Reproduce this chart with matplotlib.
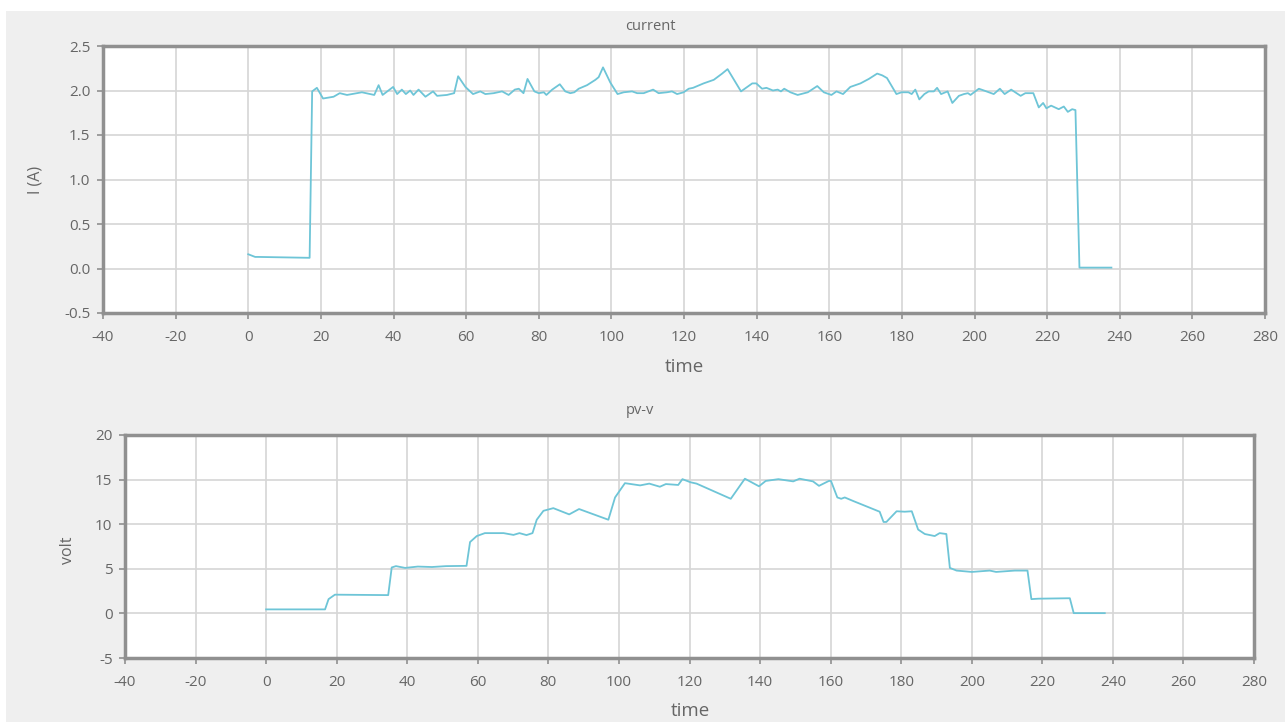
import matplotlib
matplotlib.use("Agg")
import matplotlib.pyplot as plt
from matplotlib.patches import Rectangle

plt.rcParams['font.family'] = ['Open Sans', 'DejaVu Sans']

# current (A) vs time (s)
cur_t = [0, 1.9, 2.8, 16.9, 17.6, 18.9, 20.6, 23.5, 25.2, 27.2, 31.3, 34.7, 35.9, 37.0,
         39.9, 41.0, 42.3, 43.4, 44.6, 45.5, 46.9, 48.8, 50.9, 52.0, 54.7, 56.7, 57.8,
         59.8, 61.9, 63.9, 65.3, 67.6, 69.9, 71.7, 73.4, 74.5, 75.8, 76.9, 78.8, 80.0,
         81.4, 82.1, 83.7, 85.8, 87.3, 88.7, 89.8, 91.0, 93.3, 95.6, 96.5, 97.7, 99.7,
         101.7, 103.4, 105.7, 107.1, 108.9, 111.5, 113.0, 115.3, 116.7, 118.1, 119.9,
         121.3, 122.5, 125.4, 128.2, 130.5, 132.0, 135.7, 138.8, 139.9, 141.5, 142.7,
         144.5, 145.8, 146.7, 147.6, 149.3, 151.3, 154.1, 156.7, 158.5, 160.6, 162.0,
         163.8, 165.8, 168.6, 170.9, 173.2, 174.6, 175.9, 178.5, 179.9, 181.8, 182.7,
         183.7, 184.8, 186.2, 187.4, 188.8, 189.7, 190.8, 192.0, 192.6, 193.9, 195.7,
         197.1, 198.2, 198.9, 201.2, 202.6, 205.3, 207.0, 208.3, 210.1, 212.7, 214.0,
         215.4, 216.2, 217.7, 218.9, 219.8, 221.1, 223.2, 224.6, 225.7, 226.9, 227.8,
         228.9, 237.7]
cur_i = [0.16, 0.13, 0.13, 0.12, 1.99, 2.03, 1.91, 1.93, 1.97, 1.95, 1.98, 1.95, 2.06, 1.95,
         2.04, 1.96, 2.01, 1.96, 2.00, 1.95, 2.01, 1.93, 1.99, 1.94, 1.95, 1.97, 2.16,
         2.04, 1.96, 1.99, 1.96, 1.97, 1.99, 1.95, 2.01, 2.02, 1.97, 2.13, 1.99, 1.97,
         1.98, 1.95, 2.01, 2.07, 1.99, 1.97, 1.98, 2.02, 2.06, 2.12, 2.15, 2.26, 2.09,
         1.96, 1.98, 1.99, 1.97, 1.97, 2.01, 1.97, 1.98, 1.99, 1.96, 1.98,
         2.02, 2.03, 2.08, 2.12, 2.19, 2.24, 1.99, 2.08, 2.08, 2.02, 2.03,
         2.00, 2.01, 1.99, 2.02, 1.98, 1.95, 1.98, 2.05, 1.98, 1.95, 1.99,
         1.96, 2.04, 2.08, 2.13, 2.19, 2.17, 2.14, 1.96, 1.98, 1.98, 1.96,
         2.01, 1.90, 1.96, 1.99, 1.99, 2.03, 1.96, 1.98, 1.99, 1.86, 1.94,
         1.96, 1.97, 1.95, 2.02, 2.00, 1.96, 2.02, 1.96, 2.01, 1.94, 1.97,
         1.97, 1.97, 1.81, 1.86, 1.80, 1.83, 1.79, 1.82, 1.76, 1.79, 1.78,
         0.01, 0.01]

# pv voltage (V) vs time (s)
pv_t = [0, 16.7, 17.7, 19.5, 34.6, 35.6, 36.8, 39.4, 43.0, 47.0, 51.0, 56.8, 57.8, 59.7,
        62.0, 67.3, 70.1, 71.8, 73.8, 75.5, 76.7, 78.6, 81.4, 85.9, 88.7, 97.0, 98.9,
        101.7, 106.0, 108.6, 111.6, 113.3, 116.8, 118.0, 120.3, 122.0, 131.7, 135.7,
        139.7, 141.6, 145.2, 149.4, 151.2, 155.0, 156.7, 159.5, 160.1, 161.9, 163.0,
        164.0, 166.4, 173.9, 175.0, 175.8, 178.7, 181.0, 183.0, 184.8, 186.7, 189.5,
        190.9, 192.8, 193.8, 195.7, 200.0, 205.1, 206.9, 212.2, 215.8, 216.9, 218.9,
        227.8, 228.9, 237.7]
pv_v = [0.45, 0.45, 1.6, 2.1, 2.05, 5.15, 5.3, 5.1, 5.25, 5.2, 5.3, 5.33, 8.0, 8.67,
        9.0, 9.0, 8.8, 9.0, 8.78, 9.0, 10.5, 11.5, 11.8, 11.1, 11.7, 10.5, 13.0,
        14.6, 14.35, 14.55, 14.2, 14.5, 14.4, 15.05, 14.7, 14.55, 12.85, 15.1,
        14.25, 14.85, 15.05, 14.8, 15.1, 14.8, 14.3, 14.85, 14.85, 13.0, 12.85,
        13.0, 12.6, 11.4, 10.25, 10.25, 11.45, 11.4, 11.45, 9.4, 8.9, 8.67,
        9.0, 8.9, 5.1, 4.8, 4.65, 4.8, 4.65, 4.8, 4.8, 1.6, 1.65,
        1.7, 0.03, 0.03]

x_ticks = list(range(-40, 281, 20))
cur_ticks = [-0.5, 0.0, 0.5, 1.0, 1.5, 2.0, 2.5]
pv_ticks = [-5, 0, 5, 10, 15, 20]

LINE = '#6ec5d7'
TXT = '#666666'

fig = plt.figure(figsize=(12.85, 7.25), dpi=100)
fig.patch.set_facecolor('white')
fig.patches.append(Rectangle((6 / 1285, 3 / 725), 1, 711 / 725, transform=fig.transFigure,
                             facecolor='#efefef', edgecolor='none', zorder=-10))

ax1 = fig.add_axes([103 / 1285, 1 - 313 / 725, 1162 / 1285, 267 / 725])
ax2 = fig.add_axes([125 / 1285, 1 - 658 / 725, 1129 / 1285, 223 / 725])


def style(ax, yticks, fmt):
    ax.set_facecolor('white')
    ax.grid(True, color='#d6d6d6', linewidth=1.2)
    ax.set_axisbelow(True)
    for s in ax.spines.values():
        s.set_color('#909090')
        s.set_linewidth(2.5)
    ax.tick_params(direction='out', length=4, width=1.2, color='#909090',
                   labelcolor=TXT, labelsize=11)
    ax.tick_params(axis='x', pad=8)
    ax.tick_params(axis='y', pad=5)
    ax.set_xticks(x_ticks)
    ax.set_xticklabels([str(v) for v in x_ticks])
    ax.set_yticks(yticks)
    ax.set_yticklabels([fmt.format(v) for v in yticks])


ax1.plot(cur_t, cur_i, color=LINE, linewidth=1.3)
ax1.set_xlim(-40, 280)
ax1.set_ylim(-0.5, 2.5)
style(ax1, cur_ticks, '{:.1f}')
fig.text(684 / 1285, 1 - 367 / 725, 'time', ha='center', va='center', fontsize=13.5, color=TXT)
fig.text(35 / 1285, 1 - 180 / 725, 'I (A)', rotation=90, ha='center', va='center',
         fontsize=11.5, color=TXT)
fig.text(650 / 1285, 1 - 26 / 725, 'current', ha='center', va='center', fontsize=10.5, color=TXT)

ax2.plot(pv_t, pv_v, color=LINE, linewidth=1.3)
ax2.set_xlim(-40, 280)
ax2.set_ylim(-5, 20)
style(ax2, pv_ticks, '{:d}')
fig.text(690 / 1285, 1 - 711 / 725, 'time', ha='center', va='center', fontsize=13.5, color=TXT)
fig.text(68 / 1285, 1 - 550 / 725, 'volt', rotation=90, ha='center', va='center',
         fontsize=11.5, color=TXT)
fig.text(640 / 1285, 1 - 411 / 725, 'pv-v', ha='center', va='center', fontsize=10.5, color=TXT)

fig.savefig('out.png', dpi=100)
